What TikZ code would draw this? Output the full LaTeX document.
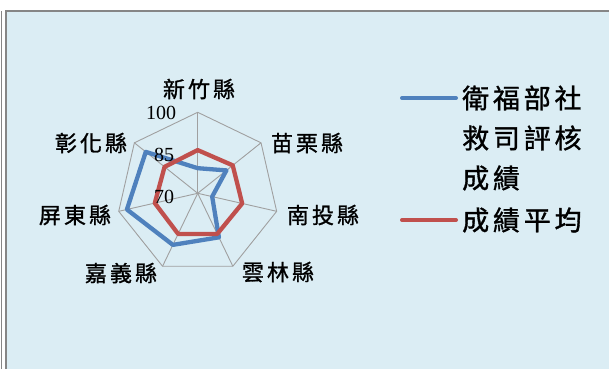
\documentclass[tikz,border=0pt]{standalone}
\usepackage{fontspec}
\setmainfont{Liberation Serif}
\newfontfamily\cjk[LetterSpace=14,FakeBold=1.2]{Noto Sans CJK TC}
\usepackage{tikz}
\usetikzlibrary{positioning}
\definecolor{panel}{RGB}{219,237,244}
\definecolor{frame}{RGB}{134,134,134}
\definecolor{gridgray}{RGB}{160,160,160}
\definecolor{score}{RGB}{79,129,189}
\definecolor{avg}{RGB}{192,80,77}
\tikzset{
  spoke/.style={draw=gridgray,line width=0.9pt},
  series/.style={line width=4.3pt,line join=round},
  county/.style={font=\cjk\fontsize{22}{22}\selectfont,inner sep=0pt},
  legtext/.style={font=\cjk\fontsize{27}{27}\selectfont,inner sep=0pt,anchor=west},
  ticklabel/.style={font=\fontsize{20}{20}\selectfont,inner sep=0pt}
}

\begin{document}
\begin{tikzpicture}[x=1pt,y=1pt]
  \useasboundingbox (0,0) rectangle (609,369);
  \fill[white] (0,0) rectangle (609,369);
  \fill[panel] (6,0) rectangle (609,358);
  \draw[frame,line width=2pt] (6,0) -- (6,358) -- (609,358);
  \draw[frame,line width=1pt] (1.5,0) -- (1.5,358);
  % radar grid
  \begin{scope}[shift={(197.7,175.7)}]
    \foreach \k in {0,...,6}
      \draw[spoke] (0,0) -- ({90-\k*360/7}:81);
    \draw[spoke] (90:81) \foreach \k in {1,...,6}{ -- ({90-\k*360/7}:81)} -- cycle;
    % data, 70 at the centre and 100 on the rim
    \foreach \v [count=\k from 0] in {79.3,83.6,75.5,88.1,91.2,96.9,94.6}
      \coordinate (b\k) at ({90-\k*360/7}:{(\v-70)*2.7});
    \foreach \v [count=\k from 0] in {86.0,86.6,86.9,86.7,86.7,86.3,85.7}
      \coordinate (r\k) at ({90-\k*360/7}:{(\v-70)*2.7});
    \draw[series,score] (b0) -- (b1) -- (b2) -- (b3) -- (b4) -- (b5) -- (b6) -- cycle;
    \draw[series,avg] (r0) -- (r1) -- (r2) -- (r3) -- (r4) -- (r5) -- (r6) -- cycle;
  \end{scope}
  % scale
  \node[ticklabel] (t100) at (161,256) {100};
  \node[ticklabel] (t85) at (164,214) {85};
  \node[ticklabel] (t70) at (164,172) {70};
  % counties
  \node[county] (hsinchu) at (199,280) {新竹縣};
  \node[county] (miaoli) at (307,226) {苗栗縣};
  \node[county] (nantou) at (323,154) {南投縣};
  \node[county] (yunlin) at (278,97) {雲林縣};
  \node[county] (chiayi) at (121,96) {嘉義縣};
  \node[county] (pingtung) at (75,154) {屏東縣};
  \node[county] (changhua) at (91,226) {彰化縣};
  % legend
  \coordinate (l1a) at (402,271);
  \coordinate (l1b) at (456,271);
  \coordinate (l2a) at (402,149);
  \coordinate (l2b) at (456,149);
  \draw[score,line width=4pt,line cap=round] (l1a) -- (l1b);
  \draw[avg,line width=4pt,line cap=round] (l2a) -- (l2b);
  \node[legtext] (leg1) at (462,271) {衛福部社};
  \node[legtext] (leg1b) at (462,231) {救司評核};
  \node[legtext] (leg1c) at (462,191) {成績};
  \node[legtext] (leg2) at (462,149) {成績平均};
\end{tikzpicture}
\end{document}
